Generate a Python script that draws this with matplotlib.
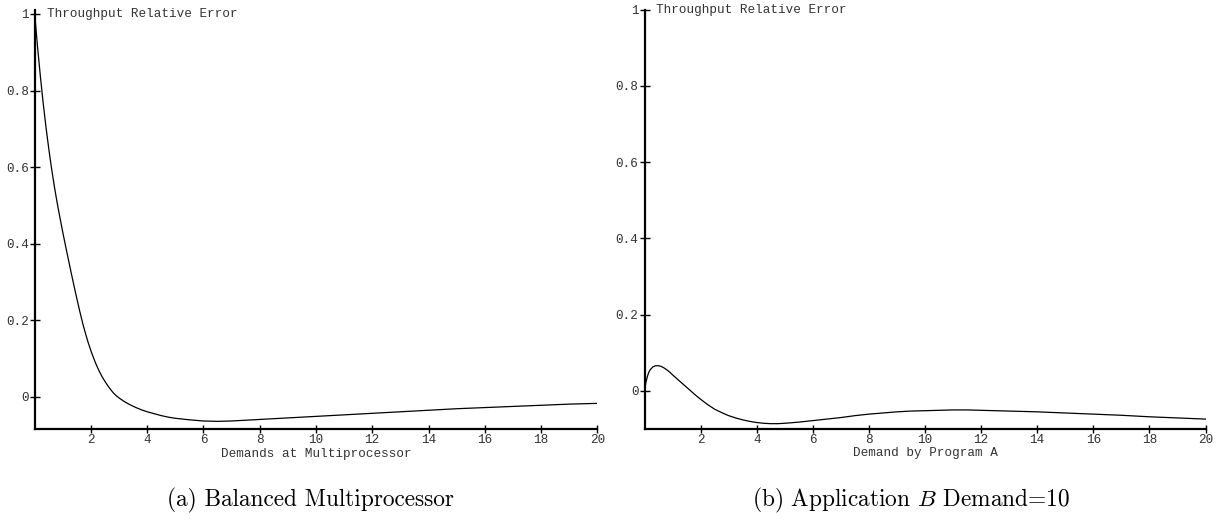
import matplotlib
matplotlib.use("Agg")
import matplotlib.pyplot as plt

# ---- data ----
demand_a = [0, 0.1, 0.2, 0.3, 0.4, 0.5, 0.6, 0.7, 0.8, 0.9, 1.0, 1.1, 1.2, 1.3, 1.4,
            1.5, 1.6, 1.7, 1.8, 1.9, 2.0, 2.1, 2.2, 2.3, 2.4, 2.5, 2.6, 2.7, 2.8,
            2.9, 3.0, 3.2, 3.4, 3.6, 3.8, 4.0, 4.25, 4.5, 4.75, 5.0, 5.5, 6.0, 6.5,
            7.0, 7.5, 8, 9, 10, 11, 12, 13, 14, 15, 16, 17, 18, 19, 20]
error_a = [1.000, 0.915, 0.838, 0.768, 0.705, 0.648, 0.596, 0.549, 0.506, 0.467,
           0.429, 0.393, 0.358, 0.323, 0.289, 0.256, 0.224, 0.194, 0.167, 0.142,
           0.120, 0.100, 0.082, 0.066, 0.052, 0.040, 0.029, 0.019, 0.010, 0.003,
           -0.003, -0.013, -0.021, -0.028, -0.034, -0.039, -0.044, -0.049, -0.053,
           -0.056, -0.060, -0.063, -0.064, -0.063, -0.061, -0.059, -0.055, -0.051,
           -0.047, -0.043, -0.039, -0.035, -0.031, -0.028, -0.025, -0.022, -0.019,
           -0.017]

demand_b = [0, 0.05, 0.1, 0.15, 0.2, 0.3, 0.4, 0.5, 0.6, 0.7, 0.8, 0.9, 1.0, 1.2, 1.4,
            1.6, 1.8, 2.0, 2.25, 2.5, 2.75, 3.0, 3.25, 3.5, 3.75, 4.0, 4.25, 4.5,
            4.75, 5.0, 5.5, 6.0, 6.5, 7.0, 7.5, 8.0, 8.5, 9.0, 9.5, 10, 10.5, 11,
            11.5, 12, 13, 14, 15, 16, 17, 18, 19, 20]
error_b = [0.000, 0.022, 0.037, 0.048, 0.055, 0.063, 0.066, 0.066, 0.064, 0.060,
           0.055, 0.049, 0.042, 0.029, 0.016, 0.003, -0.010, -0.022, -0.036, -0.048,
           -0.057, -0.065, -0.071, -0.076, -0.080, -0.083, -0.085, -0.086, -0.086,
           -0.085, -0.082, -0.078, -0.074, -0.070, -0.065, -0.061, -0.058, -0.055,
           -0.053, -0.052, -0.051, -0.050, -0.050, -0.051, -0.053, -0.055, -0.058,
           -0.061, -0.064, -0.068, -0.071, -0.074]

x_ticks = [2, 4, 6, 8, 10, 12, 14, 16, 18, 20]
x_tick_labels = ["2", "4", "6", "8", "10", "12", "14", "16", "18", "20"]
y_ticks = [0, 0.2, 0.4, 0.6, 0.8, 1]
y_tick_labels = ["0", "0.2", "0.4", "0.6", "0.8", "1"]

y_title = "Throughput Relative Error"
xlabel_a = "Demands at Multiprocessor"
xlabel_b = "Demand by Program A"
caption_a = "(a) Balanced Multiprocessor"
caption_b = "(b) Application $B$ Demand=10"

plt.rcParams['mathtext.fontset'] = 'cm'
mono = "Liberation Mono"
fs = 9.1
tcol = "#333333"

fig = plt.figure(figsize=(12.25, 5.29), dpi=100)
W, H = 1225, 529

def make_axes(left_px, right_px, top_px, bottom_px):
    return fig.add_axes([left_px / W, (H - bottom_px) / H,
                         (right_px - left_px) / W, (bottom_px - top_px) / H])

ax1 = make_axes(34.7, 597.3, 10.1, 429.4)
ax2 = make_axes(644.5, 1205.5, 9.5, 429.0)

def style(ax, x, y, xlabel, ylim):
    ax.plot(x, y, color="black", lw=0.9)
    ax.set_xlim(0, 20)
    ax.set_ylim(*ylim)
    for s in ("top", "right"):
        ax.spines[s].set_visible(False)
    for s in ("left", "bottom"):
        ax.spines[s].set_linewidth(1.6)
    ax.set_xticks(x_ticks)
    ax.set_xticklabels(x_tick_labels, fontfamily=mono, fontsize=fs, color=tcol)
    ax.set_yticks(y_ticks)
    ax.set_yticklabels(y_tick_labels, fontfamily=mono, fontsize=fs, color=tcol)
    ax.tick_params(axis="x", direction="inout", length=6, width=1.0, pad=0.5)
    ax.tick_params(axis="y", direction="inout", length=7.5, width=1.0, pad=0.5)
    ax.set_xlabel(xlabel, fontfamily=mono, fontsize=fs, color=tcol, labelpad=1.0)
    ax.annotate(y_title, xy=(0, 1), xycoords="data", xytext=(8.5, 0),
                textcoords="offset points", ha="left", va="center",
                fontfamily=mono, fontsize=fs, color=tcol, annotation_clip=False)

style(ax1, demand_a, error_a, xlabel_a, (-0.085, 1.01))
style(ax2, demand_b, error_b, xlabel_b, (-0.1, 1.0))

fig.text(310 / W, (H - 500) / H, caption_a, ha="center", va="center",
         fontfamily="cmr10", fontsize=16.8)
fig.text(911 / W, (H - 500) / H, caption_b, ha="center", va="center",
         fontfamily="cmr10", fontsize=16.8)

fig.savefig("out.png", dpi=100)
